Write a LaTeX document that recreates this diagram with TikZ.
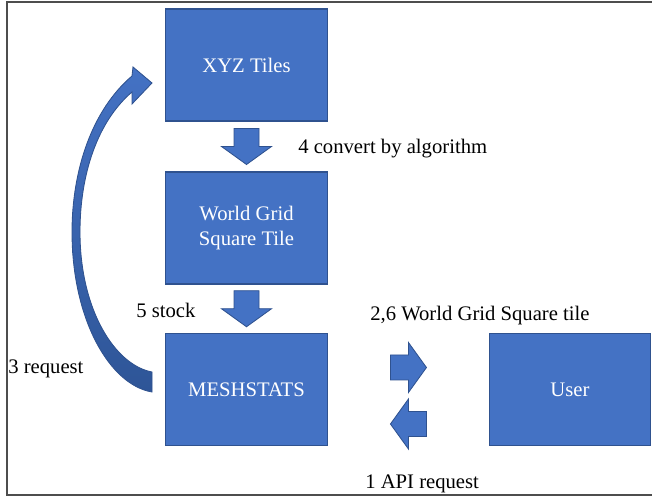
\documentclass[tikz,border=0pt]{standalone}
\usepackage{fontspec}
\setmainfont{Liberation Serif}
\usetikzlibrary{calc}

\definecolor{boxblue}{HTML}{4472C4}
\definecolor{boxedge}{HTML}{2F528F}
\definecolor{arrowdark}{HTML}{2E5597}
\definecolor{framegray}{HTML}{4D4D4D}

\tikzset{
  tile/.style={draw=boxedge, line width=1.2pt, fill=boxblue, text=white,
    minimum width=4.05cm, minimum height=2.8cm, align=center, inner sep=2pt,
    font=\fontsize{14.7}{17.8}\selectfont},
  lbl/.style={anchor=west, inner sep=0pt, font=\fontsize{14.7}{17.8}\selectfont},
  blockarrow/.pic={
    \draw[draw=boxedge, line width=0.6pt, fill=boxblue]
      (-18,-12.5) -- (0,-12.5) -- (0,-25) -- (18,0) -- (0,25) -- (0,12.5) -- (-18,12.5) -- cycle;
  }
}

\begin{document}
\begin{tikzpicture}[x=0.025cm, y=-0.025cm]
  \useasboundingbox (0,0) rectangle (652,498);
  \draw[framegray, line width=1.4pt] (7,2) rectangle (670,495);   % frame

  % tiles
  \node[tile] (xyz)  at (246.5,65)    {XYZ Tiles};
  \node[tile] (grid) at (246.5,228)   {World Grid\\Square Tile};
  \node[tile] (mesh) at (246.5,389.5) {MESHSTATS};
  \node[tile, minimum width=4.03cm] (user) at (570,389.5) {User};

  % block arrows
  \pic[rotate=-90] at ($(xyz.south)!0.5!(grid.north)$) {blockarrow};
  \pic[rotate=-90] at ($(grid.south)!0.5!(mesh.north)$) {blockarrow};
  \pic at ($(mesh.east)!0.5!(user.west)+(0,-22)$) {blockarrow};
  \pic[rotate=180] at ($(mesh.east)!0.5!(user.west)+(0,34.5)$) {blockarrow};

  % curved request arrow
  \shade[top color=boxblue, bottom color=arrowdark, draw=boxedge, line width=0.6pt]
    (152,392) .. controls (110,385) and (72,320) .. (72,232)
    .. controls (72,170) and (92,110) .. (132,76)
    -- (133,67) -- (152,83) -- (132,104) -- (132,92)
    .. controls (97,122) and (80,175) .. (80,232)
    .. controls (80,310) and (115,365) .. (152,372) -- cycle;

  % labels
  \node[lbl] (conv)  at (298,148.5) {4 convert by algorithm};
  \node[lbl] (stock) at (136,310)   {5 stock};
  \node[lbl] (reply) at (370,316)   {2,6 World Grid Square tile};
  \node[lbl] (req)   at (8,368.5)   {3 request};
  \node[lbl] (api)   at (365,483.5) {1 API request};
\end{tikzpicture}
\end{document}
